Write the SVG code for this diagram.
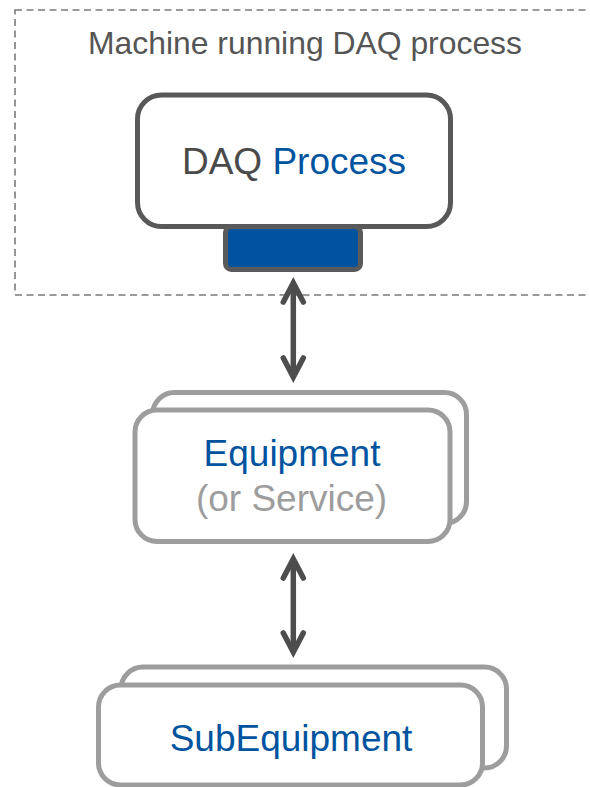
<svg xmlns="http://www.w3.org/2000/svg" width="590" height="787" viewBox="0 0 590 787">
<style>
text{font-family:"Liberation Sans",Arial,sans-serif;}
.frame{fill:none;stroke:#7a7a7a;stroke-width:1.6;stroke-dasharray:7 4.5;}
.title{font-size:31.5px;fill:#555555;}
.proc{fill:#ffffff;stroke:#585858;stroke-width:5;}
.port{fill:#00549f;stroke:#5a5a5a;stroke-width:5;}
.card{fill:#ffffff;stroke:#9d9d9d;stroke-width:5;}
.lbl{font-size:37px;text-anchor:middle;}
.blue{fill:#00549f;}
.dark{fill:#4a4a4a;}
.grey{fill:#9d9d9d;}
.link{stroke:#4d4d4d;stroke-width:5.5;fill:none;marker-start:url(#ah);marker-end:url(#ah);}
</style>
<defs>
<marker id="ah" markerUnits="userSpaceOnUse" markerWidth="40" markerHeight="40" refX="0" refY="0" orient="auto-start-reverse" overflow="visible">
<path d="M-19,-10 L0,0 L-19,10" fill="none" stroke="#4d4d4d" stroke-width="5.5" stroke-linejoin="miter" stroke-linecap="round"/>
</marker>
</defs>
<rect width="590" height="787" fill="#ffffff"/>
<g id="machine">
<rect class="frame" x="15" y="10" width="620" height="285"/>
<text class="title" x="88" y="54" textLength="434" lengthAdjust="spacingAndGlyphs">Machine running DAQ process</text>
</g>
<g id="daq-process">
<rect class="proc" x="137.5" y="95" width="313" height="131.5" rx="24"/>
<rect class="port" x="225.5" y="226.5" width="135" height="43" rx="6"/>
<text class="lbl" x="294" y="174"><tspan class="dark">DAQ </tspan><tspan class="blue">Process</tspan></text>
</g>
<g id="equipment">
<rect class="card" x="152.5" y="392.5" width="314" height="131" rx="22"/>
<rect class="card" x="135" y="410" width="315" height="131.5" rx="22"/>
<text class="lbl blue" x="292" y="466">Equipment</text>
<text class="lbl grey" x="291.5" y="511">(or Service)</text>
</g>
<g id="subequipment">
<rect class="card" x="121" y="667" width="385.5" height="101" rx="22"/>
<rect class="card" x="98.5" y="685" width="384" height="100" rx="22"/>
<text class="lbl blue" x="291" y="751">SubEquipment</text>
</g>
<g id="connectors">
<line class="link" x1="293.3" y1="283" x2="293.3" y2="377"/>
<line class="link" x1="293.3" y1="559" x2="293.3" y2="652"/>
</g>
</svg>
